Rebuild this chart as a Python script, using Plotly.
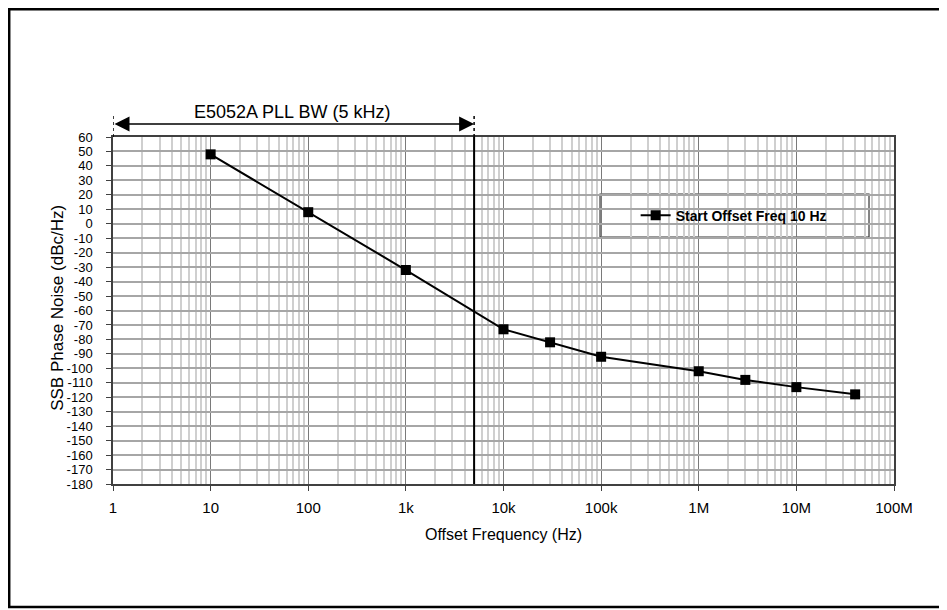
import math
import plotly.graph_objects as go

# ---- data ----
offset_freq_hz = [10, 100, 1e3, 1e4, 3e4, 1e5, 1e6, 3e6, 1e7, 4e7]
phase_noise_dbc = [48, 8, -32, -73, -82, -92, -102, -108, -113, -118]
series_name = "Start Offset Freq 10 Hz"
x_tick_vals = [1, 10, 100, 1e3, 1e4, 1e5, 1e6, 1e7, 1e8]
x_tick_text = ["1", "10", "100", "1k", "10k", "100k", "1M", "10M", "100M"]
y_tick_vals = list(range(-180, 70, 10))
y_tick_text = [str(v) for v in y_tick_vals]
pll_bw_hz = 5000
pll_label = "E5052A PLL BW (5 kHz)"
y_title = "SSB Phase Noise (dBc/Hz)"

FONT = "Liberation Sans, Arial, sans-serif"
minor_vals = [m * 10 ** d for d in range(0, 8) for m in range(2, 10)]

fig = go.Figure()
fig.add_trace(go.Scatter(
    x=offset_freq_hz, y=phase_noise_dbc, name=series_name,
    mode="lines+markers",
    line=dict(color="black", width=2),
    marker=dict(symbol="square", size=10, color="black"),
))

fig.update_layout(
    width=939, height=602,
    margin=dict(l=105, r=53, t=129, b=126),
    paper_bgcolor="white", plot_bgcolor="white",
    font=dict(family=FONT, color="black", size=12),
    showlegend=True,
    legend=dict(x=0.6692, y=0.7737, xanchor="left", yanchor="middle",
                bgcolor="rgba(0,0,0,0)", borderwidth=0,
                font=dict(family=FONT, size=14, color="black", weight="bold")),
)

fig.update_xaxes(
    type="log", range=[0, 8],
    tickmode="array", tickvals=x_tick_vals, ticktext=x_tick_text,
    showgrid=True, gridcolor="#7a7a7a", gridwidth=1.2,
    minor=dict(tickmode="array", tickvals=minor_vals, showgrid=True,
               gridcolor="#cfcfcf", gridwidth=1.5, ticks=""),
    ticks="outside", ticklen=5, tickcolor="#404040",
    showline=True, linecolor="#404040", linewidth=1.5, mirror=True,
    tickfont=dict(size=15), ticklabelstandoff=4,
    title=dict(text="Offset Frequency (Hz)", font=dict(size=16), standoff=14),
    zeroline=False,
)
fig.update_yaxes(
    range=[-180, 60], tickmode="array", tickvals=y_tick_vals, ticktext=y_tick_text,
    showgrid=True, gridcolor="#a6a6a6", gridwidth=1.5,
    ticks="outside", ticklen=5, tickcolor="#404040",
    showline=True, linecolor="#404040", linewidth=1.5, mirror=True,
    tickfont=dict(size=13), ticklabelstandoff=11,
    zeroline=False,
)

shapes = [
    # PLL bandwidth vertical line
    dict(type="line", xref="x", yref="y", x0=pll_bw_hz, x1=pll_bw_hz, y0=-180, y1=60,
         line=dict(color="black", width=2), layer="above"),
    dict(type="line", xref="x", yref="paper", x0=pll_bw_hz, x1=pll_bw_hz, y0=1, y1=1.069,
         line=dict(color="black", width=1.5, dash="dot")),
    dict(type="line", xref="x", yref="paper", x0=1, x1=1, y0=1, y1=1.069,
         line=dict(color="black", width=1.5, dash="dot")),
    # legend box
    dict(type="rect", xref="paper", yref="paper", x0=0.6236, x1=0.968, y0=0.7118, y1=0.8357,
         fillcolor="white", line=dict(color="#333333", width=1.2), layer="between"),
    # outer frame
    dict(type="rect", xref="paper", yref="paper", x0=-0.1329, x1=1.0653, y0=-0.3545, y1=1.3683,
         fillcolor="rgba(0,0,0,0)", line=dict(color="black", width=2.5)),
]
fig.update_layout(shapes=shapes)

fig.add_annotation(
    x=math.log10(pll_bw_hz), y=1.0375, xref="x", yref="paper",
    ax=0, ay=0, axref="x", ayref="pixel",
    text="", showarrow=True, arrowhead=2, arrowside="end+start",
    arrowsize=2, arrowwidth=1.5, arrowcolor="black", standoff=0, startstandoff=0,
)
fig.add_annotation(
    x=0.229, y=1.072, xref="paper", yref="paper", text=pll_label,
    showarrow=False, xanchor="center", yanchor="middle",
    font=dict(family=FONT, size=18, color="black"),
)
fig.add_annotation(
    x=-0.072, y=0.507, xref="paper", yref="paper", text=y_title,
    showarrow=False, xanchor="center", yanchor="middle", textangle=-90,
    font=dict(family=FONT, size=17, color="black"),
)

fig.write_html("out.html")
